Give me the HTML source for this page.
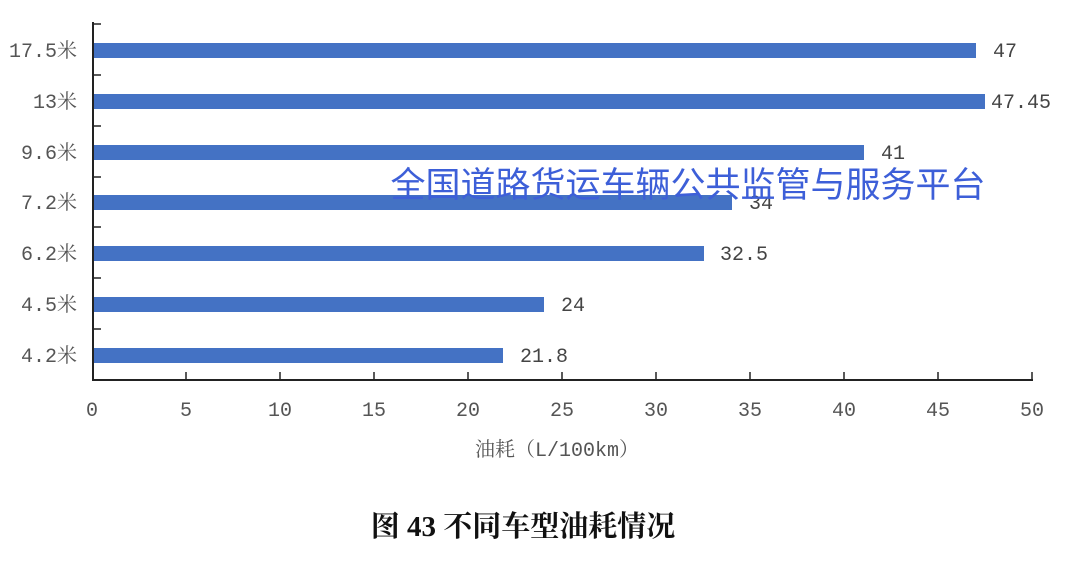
<!DOCTYPE html>
<html><head><meta charset="utf-8"><style>
body{margin:0;background:#fff;width:1080px;height:563px;overflow:hidden}
</style></head><body>
<svg width="1080" height="563" xmlns="http://www.w3.org/2000/svg" font-family="'Liberation Mono','Noto Serif CJK SC',serif">
<g fill="#4472c4">
<rect x="93" y="43" width="883" height="15"/>
<rect x="93" y="94" width="892" height="15"/>
<rect x="93" y="145" width="771" height="15"/>
<rect x="93" y="195" width="639" height="15"/>
<rect x="93" y="246" width="611" height="15"/>
<rect x="93" y="297" width="451" height="15"/>
<rect x="93" y="348" width="410" height="15"/>
</g>
<g stroke="#222" stroke-width="2" fill="none">
<line x1="93" y1="22" x2="93" y2="380"/>
<line x1="92" y1="380" x2="1033" y2="380"/>
</g>
<g stroke="#222" stroke-width="1.5">
<line x1="93" y1="24" x2="101" y2="24"/><line x1="93" y1="75" x2="101" y2="75"/><line x1="93" y1="126" x2="101" y2="126"/><line x1="93" y1="177" x2="101" y2="177"/><line x1="93" y1="227" x2="101" y2="227"/><line x1="93" y1="278" x2="101" y2="278"/><line x1="93" y1="329" x2="101" y2="329"/>
<line x1="186" y1="372" x2="186" y2="380"/><line x1="280" y1="372" x2="280" y2="380"/><line x1="374" y1="372" x2="374" y2="380"/><line x1="468" y1="372" x2="468" y2="380"/><line x1="562" y1="372" x2="562" y2="380"/><line x1="656" y1="372" x2="656" y2="380"/><line x1="750" y1="372" x2="750" y2="380"/><line x1="844" y1="372" x2="844" y2="380"/><line x1="938" y1="372" x2="938" y2="380"/><line x1="1032" y1="372" x2="1032" y2="380"/>
</g>
<g fill="#555" font-size="20" text-anchor="end">
<text x="77" y="57">17.5米</text><text x="77" y="108">13米</text><text x="77" y="159">9.6米</text><text x="77" y="209">7.2米</text><text x="77" y="260">6.2米</text><text x="77" y="311">4.5米</text><text x="77" y="362">4.2米</text>
</g>
<g fill="#444" font-size="20">
<text x="993" y="57">47</text><text x="991" y="108">47.45</text><text x="881" y="159">41</text><text x="749" y="209">34</text><text x="720" y="260">32.5</text><text x="561" y="311">24</text><text x="520" y="362">21.8</text>
</g>
<g fill="#555" font-size="20" text-anchor="middle">
<text x="92" y="416">0</text><text x="186" y="416">5</text><text x="280" y="416">10</text><text x="374" y="416">15</text><text x="468" y="416">20</text><text x="562" y="416">25</text><text x="656" y="416">30</text><text x="750" y="416">35</text><text x="844" y="416">40</text><text x="938" y="416">45</text><text x="1032" y="416">50</text>
<text x="557" y="456">油耗（L/100km）</text>
</g>
<text x="688" y="197" text-anchor="middle" fill="#3d5fd8" font-size="35" font-family="'Liberation Sans','Noto Sans CJK SC',sans-serif">全国道路货运车辆公共监管与服务平台</text>
<text x="523" y="536" text-anchor="middle" fill="#111" font-size="29" font-weight="bold" font-family="'Liberation Serif','Noto Serif CJK SC',serif">图 43 不同车型油耗情况</text>
</svg>
</body></html>
